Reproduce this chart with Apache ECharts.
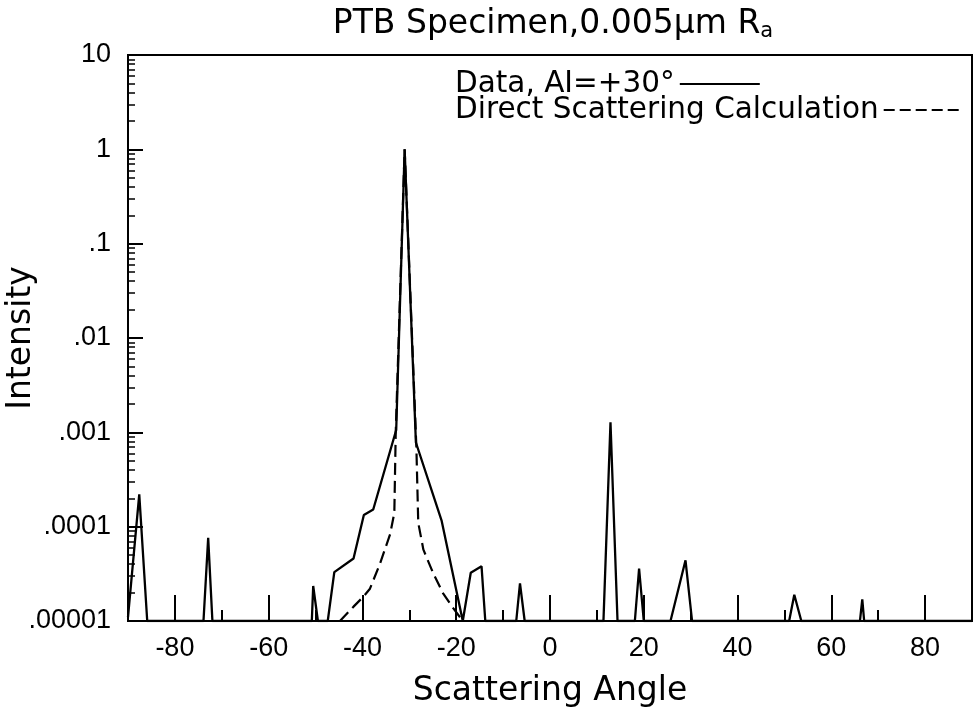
<!DOCTYPE html>
<html><head><meta charset="utf-8">
<script src="https://cdn.jsdelivr.net/npm/echarts@6/dist/echarts.min.js"></script>
<style>html,body{margin:0;padding:0;background:#fff}#c{width:976px;height:711px}</style>
</head><body><div id="c"></div>
<script>
// Measured data (solid line): scattering angle (deg) and intensity
const dataAngles = [-90, -87.6, -85.9, -73.9, -72.9, -72.0, -50.8, -50.5, -49.5, -47.4, -46.0, -41.9, -39.7, -37.7, -32.8, -31.0, -28.6, -23.1, -18.6, -16.9, -14.6, -13.8, -7.2, -6.4, -5.4, 11.4, 12.9, 14.4, 18.1, 19.0, 20.0, 25.7, 28.9, 30.3, 51.0, 52.1, 53.6, 66.1, 66.6, 67.0, 90];
const dataIntensity = [1.1e-5, 2.2e-4, 1e-5, 1e-5, 7.6e-5, 1e-5, 1e-5, 2.35e-5, 1e-5, 1e-5, 3.3e-5, 4.6e-5, 1.33e-4, 1.52e-4, 1.06e-3, 1.0, 7.8e-4, 1.15e-4, 1e-5, 3.25e-5, 3.8e-5, 1e-5, 1e-5, 2.5e-5, 1e-5, 1e-5, 1.28e-3, 1e-5, 1e-5, 3.6e-5, 1e-5, 1e-5, 4.4e-5, 1e-5, 1e-5, 1.9e-5, 1e-5, 1e-5, 1.7e-5, 1e-5, 1e-5];
// Direct scattering calculation (dashed line)
const calcAngles = [-44.8, -41.9, -39.8, -38.4, -36.3, -34.1, -33.2, -32.9, -31.0, -28.5, -28.1, -27.0, -24.9, -22.8, -20.6, -18.6];
const calcIntensity = [1e-5, 1.42e-5, 1.81e-5, 2.2e-5, 4.0e-5, 8.3e-5, 1.4e-4, 1.0e-3, 1.0, 7.0e-4, 1.1e-4, 5.7e-5, 3.2e-5, 1.96e-5, 1.36e-5, 1e-5];

const seriesNames = ['Data, AI=+30\u00b0', 'Direct Scattering Calculation'];
const xMajorTicks = [-80, -60, -40, -20, 0, 20, 40, 60, 80];
const xMinorTicks = [-70, -50, -30, -10, 10, 30, 50, 70];
const yTickValues = [0.00001, 0.0001, 0.001, 0.01, 0.1, 1, 10];
const yTickLabels = ['.00001', '.0001', '.001', '.01', '.1', '1', '10'];
const minorMultipliers = [2, 3, 4, 5, 6, 7, 8, 9];
const yMinorTicks = [];
yTickValues.slice(0, -1).forEach(d => minorMultipliers.forEach(m => yMinorTicks.push(+(d * m).toPrecision(3))));

const zip = (a, b) => a.map((v, i) => [v, b[i]]);
const WORD_FONT = 'DejaVu Sans';
const NUM_FONT = "'Liberation Sans', Arial, sans-serif";
const black = '#000';
const DASH = [12, 6];

const legendBase = {
  orient: 'vertical', left: 455, padding: 0, align: 'right',
  itemWidth: 80, itemHeight: 14, itemGap: 0,
  itemStyle: { color: 'rgba(0,0,0,0)', borderWidth: 0 },
  textStyle: { fontFamily: WORD_FONT, fontSize: 29.5, color: black, lineHeight: 26 }
};

const chart = echarts.init(document.getElementById('c'), null, {renderer: 'canvas'});
chart.setOption({
  animation: false,
  backgroundColor: '#fff',
  title: {
    text: 'PTB Specimen,0.005\u03bcm R{sub|a}',
    left: 553, textAlign: 'center',
    top: 7,
    padding: 0,
    textStyle: {
      fontFamily: WORD_FONT, fontSize: 33, fontWeight: 'normal', color: black,
      rich: { sub: { fontFamily: WORD_FONT, fontSize: 21, color: black, padding: [14, 0, 0, 0] } }
    }
  },
  legend: [
    Object.assign({}, legendBase, { top: 69, data: [seriesNames[0]],
      lineStyle: { color: black, width: 2, type: 'solid' } }),
    Object.assign({}, legendBase, { top: 95, data: [seriesNames[1]],
      lineStyle: { color: black, width: 2, type: [11, 5] } })
  ],
  grid: { left: 128, right: 4, top: 55, bottom: 90, containLabel: false, outerBoundsMode: 'none',
          show: true, borderColor: black, borderWidth: 2, backgroundColor: 'transparent' },
  xAxis: [{
    type: 'value', min: -90, max: 90, position: 'bottom',
    axisLine: { show: true, onZero: false, lineStyle: { color: black, width: 2 } },
    axisTick: { show: true, inside: true, length: 26, customValues: xMajorTicks, lineStyle: { color: black, width: 2 } },
    axisLabel: { customValues: xMajorTicks, fontFamily: NUM_FONT, fontSize: 27, color: black, margin: 14 },
    splitLine: { show: false },
    name: 'Scattering Angle', nameLocation: 'middle', nameGap: 54, nameMoveOverlap: false,
    nameTextStyle: { fontFamily: WORD_FONT, fontSize: 33, color: black }
  }, {
    type: 'value', min: -90, max: 90, position: 'bottom',
    axisLine: { show: false, onZero: false },
    axisTick: { show: true, inside: true, length: 11, customValues: xMinorTicks, lineStyle: { color: black, width: 2 } },
    axisLabel: { show: false },
    splitLine: { show: false }
  }],
  yAxis: [{
    type: 'log', logBase: 10, min: 0.00001, max: 10, position: 'left',
    axisLine: { show: true, onZero: false, lineStyle: { color: black, width: 2 } },
    axisTick: { show: true, inside: true, length: 15, customValues: yTickValues, lineStyle: { color: black, width: 2 } },
    axisLabel: {
      customValues: yTickValues, fontFamily: NUM_FONT, fontSize: 27, color: black, margin: 17,
      formatter: v => yTickLabels[Math.round(Math.log10(v)) + 5]
    },
    splitLine: { show: false },
    name: 'Intensity', nameLocation: 'middle', nameGap: 90, nameRotate: 90, nameMoveOverlap: false,
    nameTextStyle: { fontFamily: WORD_FONT, fontSize: 33, color: black }
  }, {
    type: 'log', logBase: 10, min: 0.00001, max: 10, position: 'left',
    axisLine: { show: false, onZero: false },
    axisTick: { show: true, inside: true, length: 7, customValues: yMinorTicks, lineStyle: { color: black, width: 1.5 } },
    axisLabel: { show: false },
    splitLine: { show: false }
  }],
  series: [{
    name: seriesNames[0], type: 'line', xAxisIndex: 0, yAxisIndex: 0,
    data: zip(dataAngles, dataIntensity),
    symbol: 'none', showSymbol: false,
    lineStyle: { color: black, width: 2.3 }, itemStyle: { color: black }
  }, {
    name: seriesNames[1], type: 'line', xAxisIndex: 0, yAxisIndex: 0,
    data: zip(calcAngles, calcIntensity),
    symbol: 'none', showSymbol: false,
    lineStyle: { color: black, width: 2.2, type: DASH }, itemStyle: { color: black }
  }]
});
</script>
</body></html>
